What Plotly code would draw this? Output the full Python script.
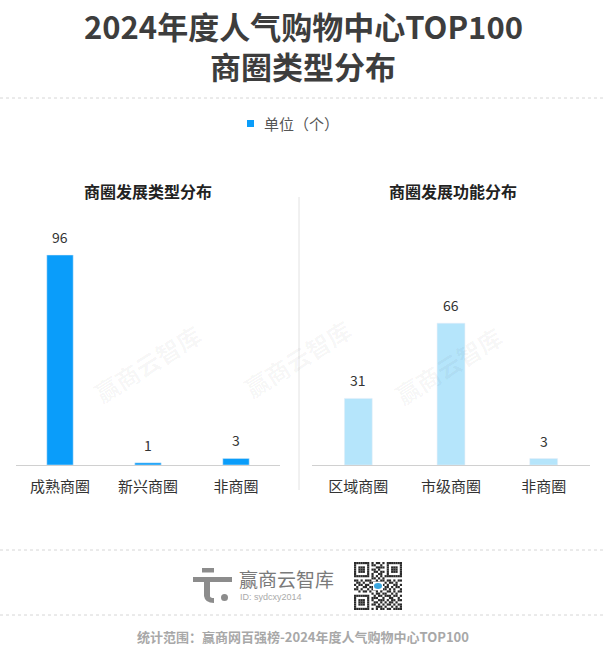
import plotly.graph_objects as go

# ---- data ----
left_title = "商圈发展类型分布"
left_categories = ["成熟商圈", "新兴商圈", "非商圈"]
left_values = [96, 1, 3]

right_title = "商圈发展功能分布"
right_categories = ["区域商圈", "市级商圈", "非商圈"]
right_values = [31, 66, 3]

main_title_1 = "2024年度人气购物中心TOP100"
main_title_2 = "商圈类型分布"
legend_label = "单位（个）"
footer_text = "统计范围：赢商网百强榜-2024年度人气购物中心TOP100"
brand_name = "赢商云智库"
brand_id = "ID: sydcxy2014"
watermark = "赢商云智库"

W, H = 606, 652
LEFT_COLOR = "#0a9dfa"
RIGHT_COLOR = "#b5e5fb"
FONT = "Noto Sans CJK SC"


def px(x):
    return x / W


def py(y):
    return 1 - y / H


fig = go.Figure()

fig.add_trace(go.Bar(
    x=left_categories, y=left_values, marker_color=LEFT_COLOR,
    xaxis="x", yaxis="y", showlegend=False, name=legend_label,
    hoverinfo="x+y",
))
fig.add_trace(go.Bar(
    x=right_categories, y=right_values, marker_color=RIGHT_COLOR,
    xaxis="x2", yaxis="y2", showlegend=False,
    hoverinfo="x+y",
))

base_y = 465
top_y = 220
ydom = [py(base_y), py(top_y)]

axis_common = dict(
    showgrid=False, zeroline=False, showline=True, linecolor="#d0d0d0",
    linewidth=1, ticks="", tickfont=dict(family=FONT, size=15, color="#333333"),
    fixedrange=True, ticklabelstandoff=8,
)
yaxis_common = dict(showgrid=False, zeroline=False, showline=False,
                    showticklabels=False, fixedrange=True)

annotations = []
# value labels
for cats, vals, xa, ya in [(left_categories, left_values, "x", "y"),
                            (right_categories, right_values, "x2", "y2")]:
    for c, v in zip(cats, vals):
        annotations.append(dict(
            x=c, y=v, xref=xa, yref=ya, text=str(v), showarrow=False,
            xanchor="center", yanchor="bottom", yshift=6,
            font=dict(family=FONT, size=14, color="#333333"),
        ))

# main title (two lines)
for txt, yy in [(main_title_1, 25), (main_title_2, 65)]:
    annotations.append(dict(
        x=0.5, y=py(yy), xref="paper", yref="paper", text="<b>" + txt + "</b>",
        showarrow=False, xanchor="center", yanchor="middle", height=36, borderpad=0,
        font=dict(family=FONT, size=31, color="#3d3d3d"),
    ))
# legend (manual)
annotations.append(dict(
    x=px(262), y=py(123), xref="paper", yref="paper", text=legend_label,
    showarrow=False, xanchor="left", yanchor="middle",
    font=dict(family=FONT, size=15, color="#555555"),
))
# subtitles
annotations.append(dict(
    x=px(148), y=py(191), xref="paper", yref="paper", text="<b>" + left_title + "</b>",
    showarrow=False, xanchor="center", yanchor="middle",
    font=dict(family=FONT, size=16, color="#222222"),
))
annotations.append(dict(
    x=px(453), y=py(191), xref="paper", yref="paper", text="<b>" + right_title + "</b>",
    showarrow=False, xanchor="center", yanchor="middle",
    font=dict(family=FONT, size=16, color="#222222"),
))
# watermarks
for wx, wy in [(147, 363), (297, 358), (448, 365)]:
    annotations.append(dict(
        x=px(wx), y=py(wy), xref="paper", yref="paper", text="<b>" + watermark + "</b>",
        showarrow=False, textangle=-32, xanchor="center", yanchor="middle",
        font=dict(family=FONT, size=24, color="rgba(0,0,0,0.04)"),
    ))
# brand block
annotations.append(dict(
    x=px(237), y=py(578), xref="paper", yref="paper", text=brand_name,
    showarrow=False, xanchor="left", yanchor="middle",
    font=dict(family=FONT, size=19, color="#7a7a7a"),
))
annotations.append(dict(
    x=px(238), y=py(597), xref="paper", yref="paper", text=brand_id,
    showarrow=False, xanchor="left", yanchor="middle",
    font=dict(family="Liberation Sans", size=9, color="#aaaaaa"),
))
# footer
annotations.append(dict(
    x=0.5, y=py(636), xref="paper", yref="paper", text="<b>" + footer_text + "</b>",
    showarrow=False, xanchor="center", yanchor="middle",
    font=dict(family=FONT, size=13, color="#a8a8a8"),
))

shapes = []
for yy in [98, 550, 615]:
    shapes.append(dict(type="line", xref="paper", yref="paper", x0=0, x1=1,
                       y0=py(yy), y1=py(yy),
                       line=dict(color="#d6d6d6", width=1, dash="dot")))
# vertical divider
shapes.append(dict(type="line", xref="paper", yref="paper", x0=px(299), x1=px(299),
                   y0=py(197), y1=py(490), line=dict(color="#e2e2e2", width=1)))


def rect(x0, y0, x1, y1, color):
    return dict(type="rect", xref="paper", yref="paper", x0=px(x0), x1=px(x1),
                y0=py(y1), y1=py(y0), line=dict(width=0), fillcolor=color)


# legend marker
shapes.append(rect(247, 120, 254, 127, LEFT_COLOR))

# logo (decorative)
LOGO = "#8c8c8c"
shapes.append(rect(202, 568, 214, 572.5, LOGO))
shapes.append(rect(193, 577, 232, 582, LOGO))
shapes.append(rect(204, 582, 210, 596, LOGO))
shapes.append(dict(type="path", xref="paper", yref="paper",
                   path=f"M {px(204)},{py(596)} Q {px(205)},{py(603)} {px(214)},{py(603)} "
                        f"L {px(214)},{py(598)} Q {px(210)},{py(598)} {px(210)},{py(596)} Z",
                   fillcolor=LOGO, line=dict(width=0)))
shapes.append(dict(type="circle", xref="paper", yref="paper",
                   x0=px(221), x1=px(228), y0=py(601), y1=py(594),
                   fillcolor=LOGO, line=dict(width=0)))

# QR code (decorative pattern)
qr_rows = [
    "1111111010110101111111",
    "1000001011001001000001",
    "1011101000111101011101",
    "1011101011010001011101",
    "1011101001101101011101",
    "1000001010011001000001",
    "1111111010101011111111",
    "0000000011010100000000",
    "1101011100101101101011",
    "0110100111010010110100",
    "1011011000111101001101",
    "0100110110000011010110",
    "1101001011000110101001",
    "0010110100101001101011",
    "0000000010110110010100",
    "1111111001011011101101",
    "1000001011100100110010",
    "1011101010011101011011",
    "1011101001101010110100",
    "1011101011010101101011",
    "1000001000111010010101",
    "1111111010101101101111",
]
qx0, qy0, qsize = 354, 562, 48
n = len(qr_rows)
cell = qsize / n
for r, row in enumerate(qr_rows):
    for c, ch in enumerate(row):
        if ch == "1":
            shapes.append(rect(qx0 + c * cell, qy0 + r * cell,
                               qx0 + (c + 1) * cell, qy0 + (r + 1) * cell, "#2a2a2a"))
# little cloud in QR centre
shapes.append(rect(qx0 + 19, qy0 + 20, qx0 + 29, qy0 + 28, "#ffffff"))
shapes.append(dict(type="circle", xref="paper", yref="paper",
                   x0=px(qx0 + 20), x1=px(qx0 + 28), y0=py(qy0 + 27), y1=py(qy0 + 21),
                   fillcolor="#3aa7e0", line=dict(width=0)))

fig.update_layout(
    width=W, height=H,
    margin=dict(l=0, r=0, t=0, b=0),
    paper_bgcolor="#ffffff", plot_bgcolor="#ffffff",
    bargap=0.70,
    xaxis=dict(domain=[px(16), px(280)], anchor="y", **axis_common),
    yaxis=dict(domain=ydom, range=[0, 112], anchor="x", **yaxis_common),
    xaxis2=dict(domain=[px(312), px(590)], anchor="y2", **axis_common),
    yaxis2=dict(domain=ydom, range=[0, 114], anchor="x2", **yaxis_common),
    showlegend=False,
    annotations=annotations,
    shapes=shapes,
)

fig.write_html("out.html", config={"displayModeBar": False},
               post_script="document.body.style.margin='0';document.body.style.overflow='hidden';")
